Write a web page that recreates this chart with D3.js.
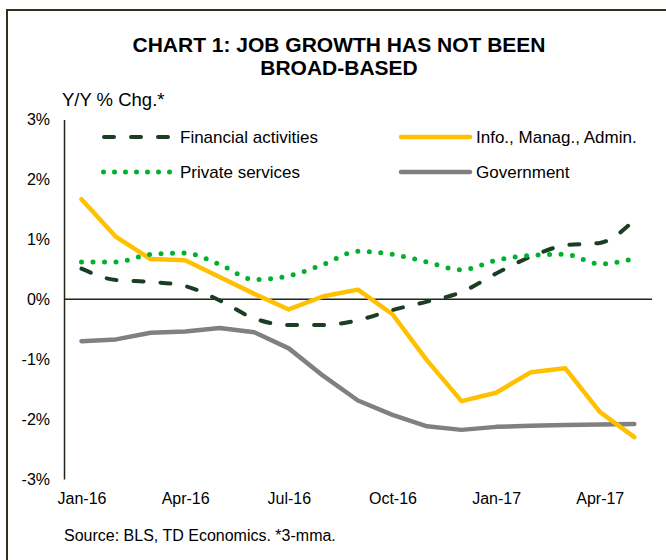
<!DOCTYPE html>
<html>
<head>
<meta charset="utf-8">
<script src="https://cdn.jsdelivr.net/npm/d3@7"></script>
<style>
  body { margin: 0; background: #fff; }
  svg text { font-family: "Liberation Sans", Arial, sans-serif; fill: #000; }
</style>
</head>
<body>
<div id="app"></div>
<script>
// data
let months = ["Jan-16", "Feb-16", "Mar-16", "Apr-16", "May-16", "Jun-16", "Jul-16", "Aug-16",
    "Sep-16", "Oct-16", "Nov-16", "Dec-16", "Jan-17", "Feb-17", "Mar-17", "Apr-17", "May-17"];
let tickMonths = ["Jan-16", "Apr-16", "Jul-16", "Oct-16", "Jan-17", "Apr-17"];
let yTicks = [-3, -2, -1, 0, 1, 2, 3];

let financial = [0.51, 0.32, 0.29, 0.22, -0.02, -0.32, -0.43, -0.43, -0.35, -0.18, -0.04, 0.12, 0.43, 0.71, 0.90, 0.94, 1.32];
let infoManag = [1.67, 1.04, 0.67, 0.65, 0.37, 0.09, -0.17, 0.05, 0.16, -0.25, -1.02, -1.70, -1.56, -1.22, -1.15, -1.88, -2.30];
let privateServ = [0.62, 0.62, 0.75, 0.77, 0.58, 0.33, 0.39, 0.58, 0.80, 0.75, 0.62, 0.49, 0.65, 0.73, 0.75, 0.59, 0.68];
let government = [-0.70, -0.67, -0.56, -0.54, -0.48, -0.55, -0.82, -1.28, -1.69, -1.93, -2.12, -2.18, -2.13, -2.11, -2.10, -2.09, -2.08];

let svg = d3.select("#app")
.append("svg")
    .attr("width", 666)
    .attr("height", 560)

// outer frame (only top and left edges are in view)
svg.append("rect")
    .attr("x", 7)
    .attr("y", 10)
    .attr("width", 700)
    .attr("height", 600)
    .attr("fill", "none")
    .attr("stroke", "#2c3421")
    .attr("stroke-width", 2)

// title
svg.append("text")
    .attr("x", 339)
    .attr("y", 52)
    .attr("text-anchor", "middle")
    .style("font-size", "21px")
    .style("font-weight", "bold")
    .text("CHART 1: JOB GROWTH HAS NOT BEEN")
svg.append("text")
    .attr("x", 339)
    .attr("y", 75)
    .attr("text-anchor", "middle")
    .style("font-size", "21px")
    .style("font-weight", "bold")
    .text("BROAD-BASED")

svg.append("text")
    .attr("x", 62)
    .attr("y", 105.5)
    .style("font-size", "18.5px")
    .text("Y/Y % Chg.*")

// scales
let x = d3.scalePoint()
    .domain(months)
    .range([81.5, 634.3])

let y = d3.scaleLinear()
    .domain([-3, 3])
    .range([479, 119.5])

// y axis
let yAxis = svg.append("g")
    .attr("transform", "translate(64,0)")
    .call(d3.axisLeft(y).tickValues(yTicks).tickSize(0).tickPadding(14).tickFormat(d => d + "%"))
yAxis.select(".domain").attr("stroke", "#1f2618").attr("stroke-width", 1.5)
yAxis.selectAll("text").style("font-size", "16px").style("font-family", "Liberation Sans, Arial, sans-serif")

// x axis labels
let xAxis = svg.append("g")
    .attr("transform", "translate(0,479)")
    .call(d3.axisBottom(x).tickValues(tickMonths).tickSize(0).tickPadding(14))
xAxis.select(".domain").remove()
xAxis.selectAll("text").style("font-size", "16px").style("font-family", "Liberation Sans, Arial, sans-serif")

// zero line
svg.append("line")
    .attr("x1", 64)
    .attr("x2", 652)
    .attr("y1", y(0))
    .attr("y2", y(0))
    .attr("stroke", "#1f2618")
    .attr("stroke-width", 1.5)

let series = [
    {name: "Government", values: government, color: "#808080", width: 4.5, dash: null, curve: d3.curveLinear},
    {name: "Info., Manag., Admin.", values: infoManag, color: "#ffc000", width: 4.5, dash: null, curve: d3.curveLinear},
    {name: "Financial activities", values: financial, color: "#1b3d22", width: 4, dash: "10,17", curve: d3.curveMonotoneX},
    {name: "Private services", values: privateServ, color: "#00b12d", width: 5, dash: "0,11.5", curve: d3.curveMonotoneX}
]

series.forEach(function(s) {
    let line = d3.line()
        .x((d, i) => x(months[i]))
        .y(d => y(d))
        .curve(s.curve)
    svg.append("path")
        .datum(s.values)
        .attr("d", line)
        .attr("fill", "none")
        .attr("stroke", s.color)
        .attr("stroke-width", s.width)
        .attr("stroke-linecap", "round")
        .attr("stroke-linejoin", "round")
        .attr("stroke-dasharray", s.dash)
})

// legend
let legend = [
    {name: "Financial activities", color: "#1b3d22", width: 4, dash: "10,17", x1: 104, x2: 170, lx: 180, ly: 137},
    {name: "Private services", color: "#00b12d", width: 5, dash: "0,11", x1: 103.5, x2: 170, lx: 180, ly: 172},
    {name: "Info., Manag., Admin.", color: "#ffc000", width: 4.5, dash: null, x1: 401, x2: 470, lx: 476, ly: 137},
    {name: "Government", color: "#808080", width: 4.5, dash: null, x1: 401, x2: 470, lx: 476, ly: 172}
]

legend.forEach(function(l) {
    svg.append("line")
        .attr("x1", l.x1)
        .attr("x2", l.x2)
        .attr("y1", l.ly)
        .attr("y2", l.ly)
        .attr("stroke", l.color)
        .attr("stroke-width", l.width)
        .attr("stroke-linecap", "round")
        .attr("stroke-dasharray", l.dash)
    svg.append("text")
        .attr("x", l.lx)
        .attr("y", l.ly + 6)
        .style("font-size", "17px")
        .text(l.name)
})

// source
svg.append("text")
    .attr("x", 64)
    .attr("y", 541)
    .style("font-size", "16px")
    .text("Source: BLS, TD Economics. *3-mma.")
</script>
</body>
</html>
